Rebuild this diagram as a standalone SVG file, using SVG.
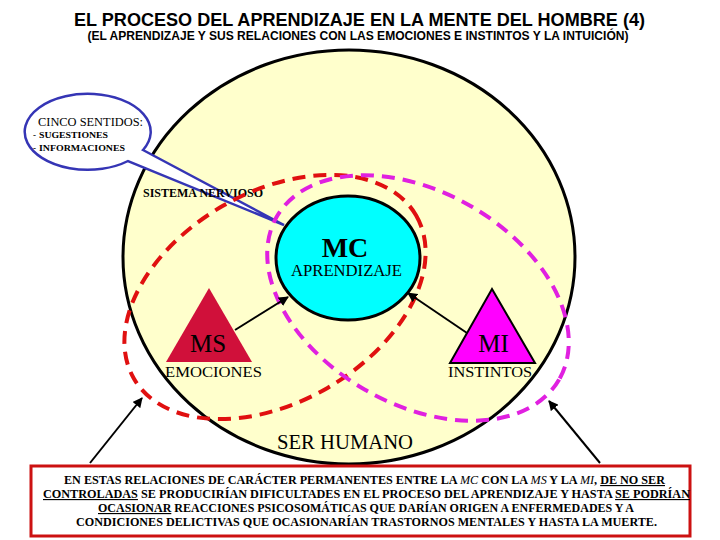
<svg xmlns="http://www.w3.org/2000/svg" width="720" height="540" viewBox="0 0 720 540">
<style>
.serif{font-family:"Liberation Serif","Times New Roman",serif;fill:#000}
.sans{font-family:"Liberation Sans",Arial,sans-serif;font-weight:bold;fill:#000}
.dash-red{fill:none;stroke:#E01010;stroke-width:4;stroke-dasharray:13 8}
.dash-mag{fill:none;stroke:#E020E0;stroke-width:4;stroke-dasharray:13 8}
.arrow{stroke:#000;stroke-width:2;fill:none;marker-end:url(#ah)}
.bt{font-family:"Liberation Serif","Times New Roman",serif;font-weight:bold;font-size:11.5px;fill:#000}
.u{text-decoration:underline}
.it{font-style:italic;font-weight:normal}
</style>
<defs>
<marker id="ah" viewBox="0 0 10 10" refX="9" refY="5" markerWidth="5" markerHeight="5" orient="auto" markerUnits="strokeWidth">
<path d="M0,0 L10,5 L0,10 Z" fill="#000"/>
</marker>
</defs>
<rect width="720" height="540" fill="#fff"/>
<text class="sans" x="359.5" y="26" font-size="18" text-anchor="middle" textLength="571" lengthAdjust="spacingAndGlyphs">EL PROCESO DEL APRENDIZAJE EN LA MENTE DEL HOMBRE (4)</text>
<text class="sans" x="358" y="40" font-size="12" text-anchor="middle" textLength="541" lengthAdjust="spacingAndGlyphs">(EL APRENDIZAJE Y SUS RELACIONES CON LAS EMOCIONES E INSTINTOS Y LA INTUICIÓN)</text>
<g id="ser-humano">
<ellipse cx="349" cy="257" rx="226" ry="207" fill="#FFFFCC" stroke="#000" stroke-width="3"/>
<text class="serif" x="345" y="449" font-size="20" text-anchor="middle" textLength="136" lengthAdjust="spacingAndGlyphs">SER HUMANO</text>
</g>
<g id="cinco-sentidos">
<path d="M143,150 L284,225 L128,161 A63,38 0 1 1 143,150 Z" fill="#fff" stroke="#3535B5" stroke-width="2.5" stroke-linejoin="miter"/>
<text class="serif" x="38" y="126" font-size="13" textLength="105" lengthAdjust="spacingAndGlyphs">CINCO SENTIDOS:</text>
<text class="serif" x="33" y="138" font-size="9" font-weight="bold">-</text>
<text class="serif" x="39" y="138" font-size="9" font-weight="bold" textLength="69" lengthAdjust="spacingAndGlyphs">SUGESTIONES</text>
<text class="serif" x="33" y="150.5" font-size="9" font-weight="bold">-</text>
<text class="serif" x="39" y="150.5" font-size="9" font-weight="bold" textLength="86" lengthAdjust="spacingAndGlyphs">INFORMACIONES</text>
</g>
<g id="sistema-nervioso">
<text class="serif" x="143" y="197" font-size="12.5" font-weight="bold" textLength="120" lengthAdjust="spacingAndGlyphs">SISTEMA NERVIOSO</text>
</g>
<g id="mc">
<ellipse cx="348" cy="258" rx="72" ry="62" fill="#00FFFF" stroke="#000" stroke-width="3"/>
<text class="serif" x="345" y="257" font-size="28" font-weight="bold" text-anchor="middle">MC</text>
<text class="serif" x="346.5" y="276" font-size="16" text-anchor="middle" textLength="111" lengthAdjust="spacingAndGlyphs">APRENDIZAJE</text>
</g>
<g id="ms">
<polygon points="209,288 252,362 166,362" fill="#D0103A"/>
<text class="serif" x="208" y="352" font-size="25" text-anchor="middle">MS</text>
<text class="serif" x="213.5" y="377" font-size="15" text-anchor="middle" textLength="97" lengthAdjust="spacingAndGlyphs">EMOCIONES</text>
</g>
<g id="mi">
<polygon points="492,289 535,363 450,363" fill="#FF00FF" stroke="#000" stroke-width="2"/>
<text class="serif" x="493.5" y="352" font-size="25" text-anchor="middle">MI</text>
<text class="serif" x="490" y="377" font-size="15" text-anchor="middle" textLength="84" lengthAdjust="spacingAndGlyphs">INSTINTOS</text>
</g>
<g id="connectors">
<ellipse class="dash-red" cx="275" cy="297" rx="163" ry="105" transform="rotate(-30 275 297)"/>
<ellipse class="dash-mag" cx="418" cy="298" rx="163" ry="106" transform="rotate(30 418 298)"/>
<line class="arrow" x1="235" y1="330" x2="288" y2="297"/>
<line class="arrow" x1="467" y1="333" x2="408" y2="293"/>
<line class="arrow" x1="90" y1="463" x2="142" y2="398"/>
<line class="arrow" x1="600" y1="463" x2="549" y2="401"/>
</g>
<g id="nota">
<rect x="31" y="466" width="659" height="70" fill="#fff" stroke="#CC1111" stroke-width="3"/>
<text class="bt" x="64" y="484" textLength="601" lengthAdjust="spacingAndGlyphs">EN ESTAS RELACIONES DE CARÁCTER PERMANENTES ENTRE LA <tspan class="it">MC</tspan> CON LA <tspan class="it">MS</tspan> Y LA <tspan class="it">MI</tspan>, <tspan class="u">DE NO SER</tspan></text>
<text class="bt" x="43" y="498" textLength="647" lengthAdjust="spacingAndGlyphs"><tspan class="u">CONTROLADAS</tspan> SE PRODUCIRÍAN DIFICULTADES EN EL PROCESO DEL APRENDIZAJE Y HASTA <tspan class="u">SE PODRÍAN</tspan></text>
<text class="bt" x="98" y="512" textLength="536" lengthAdjust="spacingAndGlyphs"><tspan class="u">OCASIONAR</tspan> REACCIONES PSICOSOMÁTICAS QUE DARÍAN ORIGEN A ENFERMEDADES Y A</text>
<text class="bt" x="76" y="526" textLength="581" lengthAdjust="spacingAndGlyphs">CONDICIONES DELICTIVAS QUE OCASIONARÍAN TRASTORNOS MENTALES Y HASTA LA MUERTE.</text>
</g>
</svg>
